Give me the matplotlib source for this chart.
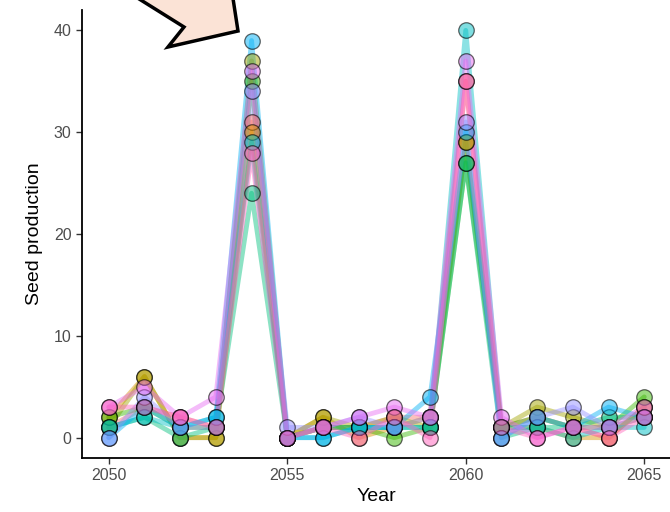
import numpy as np
import matplotlib
matplotlib.use("Agg")
import matplotlib.pyplot as plt
from matplotlib.colors import to_rgba
from matplotlib.patches import Polygon

plt.rcParams['font.family'] = ['Liberation Sans', 'DejaVu Sans']

# data
years = np.arange(2050, 2066)
s0 = [1, 3, 2, 1, 31, 0, 1, 1, 2, 2, 35, 1, 2, 1, 0, 3]
s1 = [2, 6, 0, 0, 30, 0, 2, 0, 1, 2, 29, 1, 1, 0, 0, 3]
s2 = [1, 6, 0, 0, 37, 0, 2, 1, 2, 1, 29, 1, 3, 2, 1, 2]
s3 = [2, 3, 1, 1, 35, 0, 1, 1, 0, 1, 27, 1, 2, 1, 1, 4]
s4 = [1, 2, 0, 1, 24, 0, 1, 1, 1, 1, 27, 0, 1, 1, 2, 2]
s5 = [1, 2, 1, 2, 29, 0, 0, 1, 1, 1, 40, 1, 1, 0, 1, 1]
s6 = [0, 3, 1, 2, 39, 0, 0, 1, 1, 4, 30, 0, 2, 1, 3, 2]
s7 = [0, 4, 1, 1, 34, 1, 1, 2, 1, 2, 31, 0, 2, 3, 1, 2]
s8 = [3, 5, 2, 4, 36, 0, 1, 2, 3, 2, 37, 2, 0, 1, 1, 3]
s9 = [3, 3, 2, 1, 28, 0, 1, 0, 2, 0, 35, 1, 0, 1, 0, 2]
series = [s0, s1, s2, s3, s4, s5, s6, s7, s8, s9]

# ggplot hue palette, 10 groups
colors = ['#F8766D', '#D89000', '#A3A500', '#39B600', '#00BF7D',
          '#00BFC4', '#00B0F6', '#9590FF', '#E76BF3', '#FF62BC']

# callout shape in pixel coords (top-left, partly off the canvas)
callout_px = [(128, -8), (184, 27), (168, 47), (238, 31), (232, -8)]

W, H = 670, 512
fig = plt.figure(figsize=(W / 100, H / 100), dpi=100)
ax = fig.add_axes([82 / W, 1 - 458 / H, (671 - 82) / W, (458 - 10) / H])

for s, c in zip(series, colors):
    ax.plot(years, s, color=c, alpha=0.45, lw=3.5, solid_capstyle='round', zorder=2)
for s, c in zip(series, colors):
    ax.scatter(years, s, s=125, facecolor=to_rgba(c, 0.5),
               edgecolor=(0, 0, 0, 0.6), linewidth=0.9, zorder=3)

ax.set_xlim(2049.25, 2065.75)
ax.set_ylim(-2, 42)
ax.set_xticks([2050, 2055, 2060, 2065])
ax.set_yticks([0, 10, 20, 30, 40])
ax.tick_params(colors='#333333', labelcolor='#4D4D4D', labelsize=11.5, length=4, width=1)
ax.spines['top'].set_visible(False)
ax.spines['right'].set_visible(False)
for sp in ('left', 'bottom'):
    ax.spines[sp].set_linewidth(1.3)
    ax.spines[sp].set_color('black')
ax.set_xlabel("Year", fontsize=14, labelpad=3)
ax.set_ylabel("Seed production", fontsize=14, labelpad=8)

poly = Polygon([(x / W, 1 - y / H) for x, y in callout_px], closed=True,
               transform=fig.transFigure, facecolor='#FBE3D6', edgecolor='black',
               linewidth=2.5, joinstyle='miter', clip_on=False, zorder=10)
fig.patches.append(poly)

fig.savefig("out.png", dpi=100)
